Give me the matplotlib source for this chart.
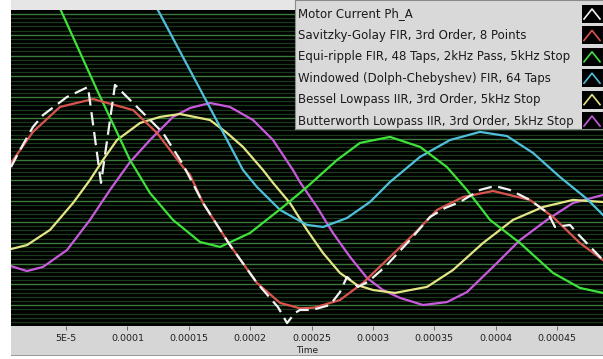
import numpy as np
import matplotlib
matplotlib.use('Agg')
import matplotlib.pyplot as plt
from matplotlib.patches import Rectangle

# time in microseconds, signal in grid units (one bright line per unit)
t_motor = [5.2, 12.5, 23.1, 31.3, 50.8, 67.9, 78.5, 89.9, 100.5, 116.0, 129.0, 144.5,
           161.6, 183.5, 205.5, 222.6, 230.0, 236.5, 240.5, 250.3, 265.0, 273.1, 278.8,
           287.8, 295.9, 309.8, 330.1, 346.4, 358.6, 370.8, 387.1, 399.3, 411.5, 427.8,
           442.5, 448.2, 460.4, 466.1, 487.3]
v_motor = [7.64, 8.46, 9.57, 10.14, 11.01, 11.49, 6.88, 11.59, 10.96, 10.05, 9.28, 7.84,
           5.91, 3.89, 2.07, 0.91, 0.14, 0.63, 0.77, 0.77, 1.01, 1.63, 2.36,
           1.88, 2.12, 2.84, 4.13, 5.24, 5.67, 5.96, 6.54, 6.73, 6.54, 6.06,
           5.43, 4.76, 4.86, 4.47, 3.17]

t_sg = [5.2, 23.1, 45.1, 72.0, 104.6, 124.1, 145.3, 151.0, 161.6, 183.5, 205.5, 224.3,
        240.5, 252.0, 273.1, 291.8, 313.8, 332.6, 352.1, 373.3, 397.7, 427.8, 446.6,
        468.5, 487.3]
v_sg = [7.84, 9.33, 10.53, 10.91, 10.38, 9.28, 7.64, 7.26, 5.91, 3.89, 2.07, 1.11,
        0.85, 0.88, 1.25, 2.07, 3.32, 4.38, 5.58, 6.20, 6.49, 6.06, 5.24,
        3.99, 3.17]

t_eq = [41.0, 75.2, 102.1, 118.4, 137.1, 159.1, 175.4, 199.8, 226.7, 246.2, 270.7,
        289.4, 313.8, 338.3, 360.2, 376.5, 395.3, 419.7, 446.6, 468.5, 487.3]
v_eq = [15.8, 11.35, 7.98, 6.39, 5.10, 4.04, 3.80, 4.47, 5.72, 6.68, 7.98,
        8.80, 9.09, 8.61, 7.64, 6.54, 5.10, 3.99, 2.55, 1.83, 1.59]

t_win = [118.4, 159.1, 194.1, 205.5, 224.3, 246.2, 259.3, 278.8, 297.5, 313.8, 338.3,
         362.7, 387.1, 409.1, 430.3, 452.3, 474.2, 487.3]
v_win = [15.9, 11.39, 7.50, 6.68, 5.58, 4.86, 4.76, 5.19, 5.96, 6.92, 8.13,
         8.94, 9.33, 9.13, 8.32, 7.16, 6.11, 5.34]

t_bes = [5.2, 18.2, 37.0, 55.7, 69.5, 80.1, 91.5, 110.3, 126.5, 142.8, 167.3, 181.1,
         194.1, 210.4, 218.6, 232.4, 246.2, 259.3, 273.1, 287.0, 300.0, 317.9, 344.0,
         365.1, 389.6, 414.0, 438.4, 462.8, 487.3]
v_bes = [3.70, 3.89, 4.62, 5.91, 7.02, 7.98, 8.94, 9.76, 10.05, 10.19, 9.90, 9.28,
         8.61, 7.50, 6.88, 5.91, 4.62, 3.51, 2.55, 1.97, 1.73, 1.59, 1.88,
         2.69, 3.99, 5.10, 5.72, 6.06, 5.96]

t_but = [5.2, 18.2, 31.3, 50.8, 69.5, 85.8, 102.1, 118.4, 137.1, 151.0, 167.3, 183.5,
         202.3, 218.6, 234.8, 240.5, 254.4, 267.4, 281.3, 295.1, 308.1, 322.0, 340.7,
         360.2, 376.5, 397.7, 419.7, 441.7, 462.8, 487.3]
v_but = [2.88, 2.64, 2.84, 3.65, 5.10, 6.54, 7.88, 8.94, 10.05, 10.48, 10.72, 10.53,
         9.90, 8.94, 7.50, 6.92, 5.72, 4.47, 3.32, 2.31, 1.73, 1.35, 1.01,
         1.15, 1.63, 2.84, 4.13, 5.10, 5.91, 6.30]

labels = ['Motor Current Ph_A',
          'Savitzky-Golay FIR, 3rd Order, 8 Points',
          'Equi-ripple FIR, 48 Taps, 2kHz Pass, 5kHz Stop',
          'Windowed (Dolph-Chebyshev) FIR, 64 Taps',
          'Bessel Lowpass IIR, 3rd Order, 5kHz Stop',
          'Butterworth Lowpass IIR, 3rd Order, 5kHz Stop']
colors = ['#f2f2f2', '#d9544e', '#3ee23a', '#4fc0dc', '#e4e686', '#c95ade']

xticks = [5e-5, 1e-4, 1.5e-4, 2e-4, 2.5e-4, 3e-4, 3.5e-4, 4e-4, 4.5e-4]
xticklabels = ['5E-5', '0.0001', '0.00015', '0.0002', '0.00025', '0.0003',
               '0.00035', '0.0004', '0.00045']

fig = plt.figure(figsize=(6.03, 3.59), dpi=100, facecolor='white')

# grey panels above and below the plot
fig.patches.append(Rectangle((11/603, 1-10/359), 592/603, 10/359, transform=fig.transFigure,
                             facecolor='#e6e6e6', edgecolor='none', zorder=0))
fig.patches.append(Rectangle((11/603, 3/359), 592/603, 30/359, transform=fig.transFigure,
                             facecolor='#d6d6d6', edgecolor='none', zorder=0))
fig.patches.append(Rectangle((11/603, 3/359), 592/603, 1.5/359, transform=fig.transFigure,
                             facecolor='#9a9a9a', edgecolor='none', zorder=0))

ax = fig.add_axes([11/603, 33/359, 592/603, 316/359])
ax.set_zorder(2)
ax.set_facecolor('black')
ax.set_xlim(5.2e-6, 487.3e-6)
ax.set_ylim(0, 15.19)

for y in np.arange(0.2, 15.2, 0.2):
    major = abs(y - round(y)) < 1e-6
    ax.axhline(y, color='#3c7a3c' if major else '#1a3a1a', lw=1.0 if major else 0.9, zorder=1)

series = [(t_motor, v_motor), (t_sg, v_sg), (t_eq, v_eq), (t_win, v_win),
          (t_bes, v_bes), (t_but, v_but)]
for i in [5, 4, 3, 2, 1]:
    t, v = series[i]
    ax.plot(np.array(t)*1e-6, v, color=colors[i], lw=1.6, zorder=3)
ax.plot(np.array(t_motor)*1e-6, v_motor, color=colors[0], lw=1.6,
        linestyle=(0, (6, 3)), zorder=4)

ax.set_yticks([])
ax.set_xticks(xticks)
ax.set_xticklabels(xticklabels, fontsize=6.8, color='#202020')
ax.tick_params(axis='x', length=3, width=0.6, color='#555555', pad=3)
ax.set_xlabel('Time', fontsize=6.5, color='#202020', labelpad=2)
for s in ax.spines.values():
    s.set_visible(False)

# legend panel, top right
lg = fig.add_axes([295/603, 1-129/359, 308/603, 129/359])
lg.set_zorder(3)
lg.set_xlim(0, 308)
lg.set_ylim(129, 0)
lg.set_facecolor('#d9d9d9')
for s in lg.spines.values():
    s.set_color('#8a8a8a')
    s.set_linewidth(0.8)
lg.set_xticks([])
lg.set_yticks([])
for i, (lab, c) in enumerate(zip(labels, colors)):
    yc = 14 + 21.4*i
    lg.text(3, yc, lab, fontsize=8.5, color='#1a1a1a', va='center', ha='left')
    lg.add_patch(Rectangle((287, yc-9), 21, 18, facecolor='black', edgecolor='none'))
    lg.plot([289, 297, 305], [yc+5, yc-5, yc+5], color=c, lw=1.2)

plt.savefig('out.png', dpi=100, facecolor='white')
